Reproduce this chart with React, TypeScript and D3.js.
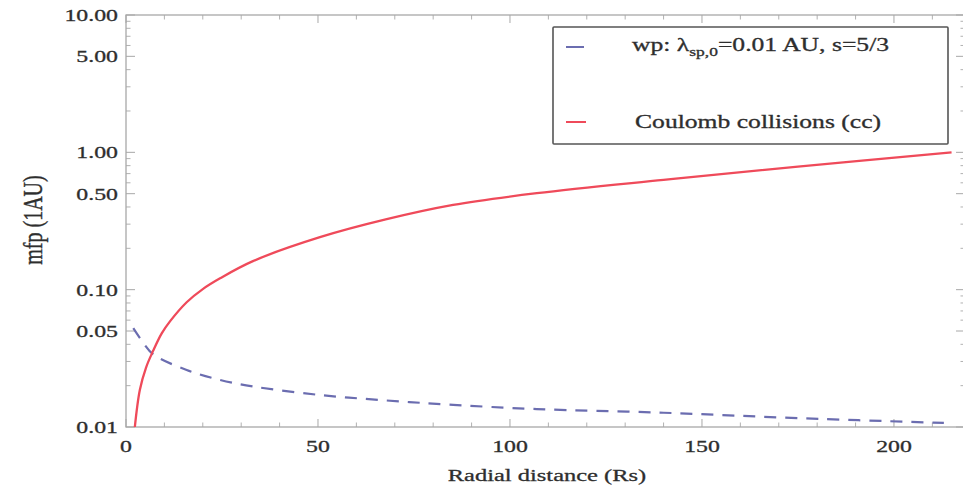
import React from "react";
import * as d3 from "d3";

// ---- data ----
const redR = [2.3, 3.6, 5.2, 7.1, 9.3, 11.5, 15.8, 20, 24.5, 33.2, 50.5, 67.9, 85.2, 107, 140, 175, 215];
const redV = [0.01, 0.0186, 0.027, 0.036, 0.048, 0.059, 0.081, 0.101, 0.121, 0.162, 0.241, 0.326, 0.414, 0.504, 0.63, 0.787, 1.0];
const blueR = [1.9, 4.5, 7.1, 15.8, 24.5, 33.2, 50.5, 67.9, 85.2, 107, 140, 175, 213];
const blueV = [0.0524, 0.041, 0.0338, 0.026, 0.022, 0.0197, 0.0171, 0.0156, 0.0145, 0.0135, 0.0127, 0.0116, 0.0107];
const yMajor = [0.01, 0.05, 0.1, 0.5, 1, 5, 10];
const yMajorLabels = ["0.01", "0.05", "0.10", "0.50", "1.00", "5.00", "10.00"];
const xMajor = [0, 50, 100, 150, 200];
const xMajorLabels = ["0", "50", "100", "150", "200"];
const legendLabels = ["wp: ", "Coulomb collisions (cc)"];

const W = 963, H = 489;
const L = 126, R = 965, T = 15, B = 427;
const SX = 1.4;
const FONT = "'Liberation Serif', 'Times New Roman', serif";
const TXT = "#2e2e2e";

export default function App() {
  const x = d3.scaleLinear().domain([0, 218.5]).range([L, R]);
  const y = d3.scaleLog().domain([0.01, 10]).range([B, T]);

  const line = d3.line<number>().curve(d3.curveCatmullRom.alpha(0.5));
  const redPath = line(redR.map((r, i) => [x(r), y(redV[i])]) as any);
  const bluePath = line(blueR.map((r, i) => [x(r), y(blueV[i])]) as any);

  const yMinor: number[] = [];
  [0.01, 0.1, 1].forEach((d) => {
    for (let k = 2; k <= 9; k++) if (k !== 5) yMinor.push(d * k);
  });
  const xMinor: number[] = d3.range(10, 219, 10).filter((v) => v % 50 !== 0);

  const txtStyle = { fontFamily: FONT, fill: TXT, stroke: TXT, strokeWidth: 0.3 } as any;

  const frame = "#a8a8a8";

  return (
    <svg width={W} height={H} style={{ position: "fixed", left: 0, top: 0, background: "#fff" }}>
      <defs>
        <clipPath id="plot">
          <rect x={L} y={T} width={R - L} height={B - T} />
        </clipPath>
      </defs>
      {/* frame */}
      <rect x={L} y={T} width={R - L} height={B - T} fill="none" stroke={frame} strokeWidth={1.3} />
      {/* y ticks left & right */}
      {yMajor.map((v) => (
        <g key={"ym" + v}>
          <line x1={L} x2={L + 9} y1={y(v)} y2={y(v)} stroke={frame} strokeWidth={1} />
          <line x1={R} x2={R - 9} y1={y(v)} y2={y(v)} stroke={frame} strokeWidth={1} />
        </g>
      ))}
      {yMinor.map((v) => (
        <g key={"yn" + v}>
          <line x1={L} x2={L + 4.5} y1={y(v)} y2={y(v)} stroke={frame} strokeWidth={0.9} />
          <line x1={R} x2={R - 4.5} y1={y(v)} y2={y(v)} stroke={frame} strokeWidth={0.9} />
        </g>
      ))}
      {/* x ticks bottom & top */}
      {xMajor.map((v) => (
        <g key={"xm" + v}>
          <line x1={x(v)} x2={x(v)} y1={B} y2={B - 8} stroke={frame} strokeWidth={1} />
          <line x1={x(v)} x2={x(v)} y1={T} y2={T + 8} stroke={frame} strokeWidth={1} />
        </g>
      ))}
      {xMinor.map((v) => (
        <g key={"xn" + v}>
          <line x1={x(v)} x2={x(v)} y1={B} y2={B - 4.5} stroke={frame} strokeWidth={0.9} />
          <line x1={x(v)} x2={x(v)} y1={T} y2={T + 4.5} stroke={frame} strokeWidth={0.9} />
        </g>
      ))}
      {/* tick labels */}
      {yMajor.map((v, i) => (
        <text key={"yl" + v} transform={`translate(${L - 8},${y(v) + 6}) scale(${SX},1)`} textAnchor="end" fontSize={17} style={txtStyle}>
          {yMajorLabels[i]}
        </text>
      ))}
      {xMajor.map((v, i) => (
        <text key={"xl" + v} transform={`translate(${x(v)},${B + 25}) scale(${SX},1)`} textAnchor="middle" fontSize={17} style={txtStyle}>
          {xMajorLabels[i]}
        </text>
      ))}
      {/* axis labels */}
      <text transform={`translate(547,481) scale(${SX},1)`} textAnchor="middle" fontSize={17.5} style={txtStyle}>
        Radial distance (Rs)
      </text>
      <text transform={`translate(42,220) rotate(-90) scale(1,${SX})`} textAnchor="middle" fontSize={20} style={txtStyle}>
        mfp (1AU)
      </text>
      {/* curves */}
      <g clipPath="url(#plot)">
        <path d={bluePath || ""} fill="none" stroke="#6b6db0" strokeWidth={2.2} strokeDasharray="12,9" />
        <path d={redPath || ""} fill="none" stroke="#ef4a5a" strokeWidth={2.3} />
      </g>
      {/* legend */}
      <rect x={553} y={27} width={395} height={117} fill="#fff" stroke="#555" strokeWidth={1.6} rx={1} />
      <line x1={566} x2={584} y1={47} y2={47} stroke="#6b6db0" strokeWidth={2} />
      <line x1={566} x2={586} y1={122} y2={122} stroke="#ef4a5a" strokeWidth={2} />
      <text transform={`translate(632,51) scale(${SX},1)`} fontSize={18.3} style={txtStyle}>
        {legendLabels[0]}λ
        <tspan fontSize={12.5} dy={5}>sp,0</tspan>
        <tspan dy={-5}>=0.01 AU, s=5/3</tspan>
      </text>
      <text transform={`translate(635,128) scale(${SX},1)`} fontSize={18.3} style={txtStyle}>
        {legendLabels[1]}
      </text>
    </svg>
  );
}
